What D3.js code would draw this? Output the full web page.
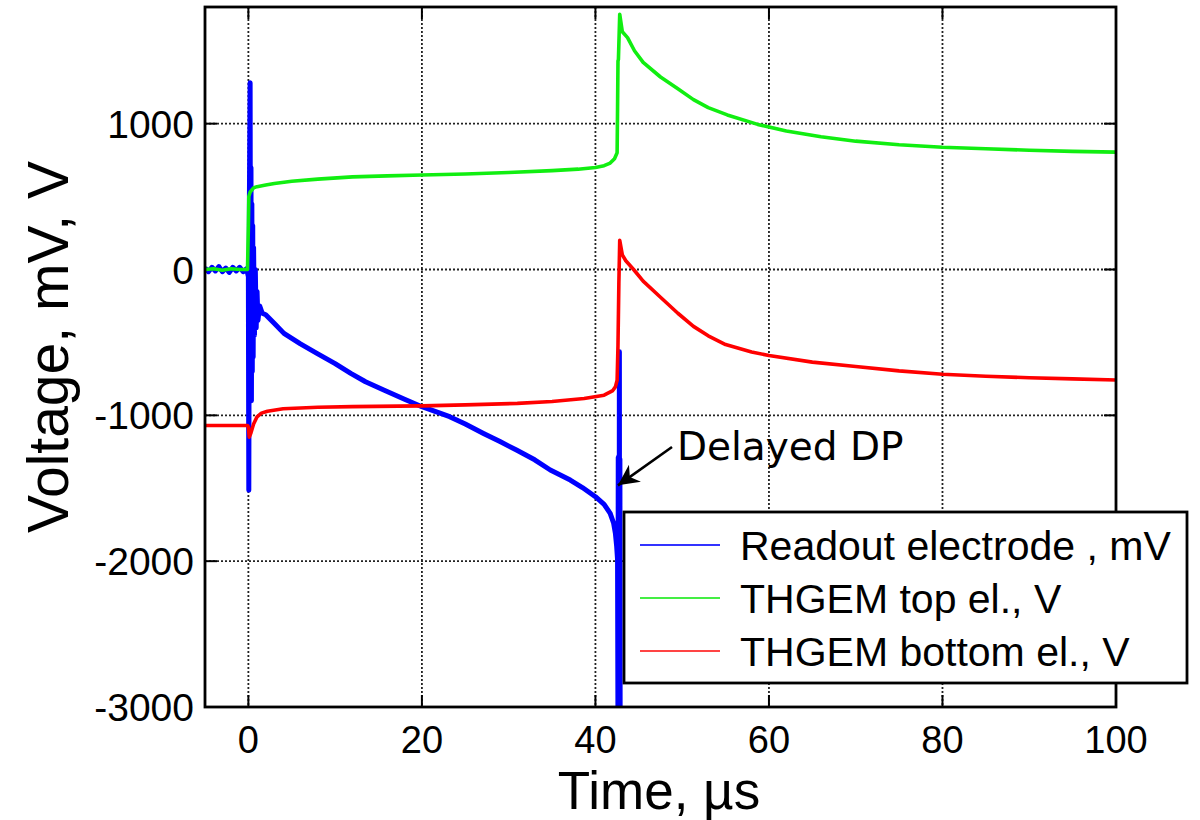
<!DOCTYPE html>
<html>
<head>
<meta charset="utf-8">
<script src="https://cdn.jsdelivr.net/npm/d3@7"></script>
<style>
  html, body { margin: 0; padding: 0; background: #fff; }
  svg { display: block; }
  text { font-family: "Liberation Sans", Arial, sans-serif; fill: #000; }
</style>
</head>
<body>
<svg id="chart" width="1200" height="820"></svg>
<script>
// ---------------- data ----------------
const xTicks = [0, 20, 40, 60, 80, 100];
const yTicks = [-3000, -2000, -1000, 0, 1000];
const xTickLabels = ["0", "20", "40", "60", "80", "100"];
const yTickLabels = ["-3000", "-2000", "-1000", "0", "1000"];

const seriesNames = ["Readout electrode , mV", "THGEM top el., V", "THGEM bottom el., V"];
const seriesColors = ["#0000ff", "#11ee11", "#ff0000"];
const legendColors = ["#3333ff", "#44ee44", "#ff4444"];

// Readout electrode (mV)
const readoutT = [-5, -4.6, -4.2, -3.8, -3.4, -3.0, -2.6, -2.2, -1.8, -1.4, -1.0, -0.6, -0.2, 0,
  0.05, 0.12, 0.2, 0.25, 0.3, 0.35, 0.4, 0.45, 0.5, 0.55, 0.6, 0.7, 0.8, 0.9, 1.0, 1.1, 1.3, 1.6,
  2, 3, 4.1, 6, 7.9, 10, 11.8, 13.5, 15.6, 18, 20, 23.2, 25, 27.1, 29, 30.9, 33, 34.8, 37.1, 38.5,
  40, 41, 41.7, 42.1, 42.3, 42.45, 42.55, 42.6, 42.63, 42.66, 42.7, 42.73, 42.76, 42.79, 42.82, 42.85];
const readoutV = [10, -15, 15, -10, 20, -15, 10, -20, 15, -10, 15, -15, 5, -50,
  -1513, 500, 1280, -700, 700, -900, 450, -700, 300, -600, 150, -450, 0, -400, -150, -350, -250, -300,
  -310, -370, -438, -510, -575, -645, -712, -770, -826, -890, -941, -1009, -1060, -1124, -1180, -1238, -1305, -1375, -1444, -1495,
  -1558, -1610, -1672, -1740, -1809, -1900, -1990, -3200, -1290, -3200, -1280, -3200, -564, -3200, -1300, -3200];

// THGEM top electrode (V)
const topT = [-5, -4, -3, -2, -1, -0.1, 0, 0.05, 0.2, 0.6, 1, 2, 3, 5, 8, 12, 16, 20, 25, 30, 35, 38, 40, 41,
  41.7, 42.2, 42.5, 42.55, 42.6, 42.65, 42.8, 43.1, 43.7, 44.5, 45.5, 47.5, 49.5, 51.3, 53, 55.2, 58.7,
  62, 66, 70, 75, 80, 85, 90, 95, 100];
const topV = [0, 5, -5, 5, 0, 0, 300, 500, 530, 560, 568, 580, 590, 605, 620, 635, 642, 648, 655, 665, 678, 688, 700, 712,
  730, 760, 800, 1100, 1430, 1440, 1750, 1630, 1590, 1500, 1420, 1320, 1240, 1165, 1110, 1060, 995,
  950, 910, 880, 855, 838, 828, 818, 810, 805];

// THGEM bottom electrode (V)
const bottomT = [-5, -0.1, 0, 0.1, 0.3, 0.6, 1, 1.5, 2.2, 4, 8, 12, 20, 25, 31, 35, 38.7, 41, 42, 42.3, 42.5,
  42.6, 42.7, 42.8, 43.1, 43.5, 44.4, 45.5, 47.5, 49.5, 51.3, 53, 55, 58, 60, 65, 70, 75, 80, 85, 90, 95, 100];
const bottomV = [-1070, -1070, -1080, -1150, -1120, -1060, -1010, -985, -972, -955, -945, -940, -935, -928, -918, -905, -885, -862, -830, -805, -760,
  -520, -100, 200, 100, 60, 0, -80, -190, -300, -390, -455, -515, -565, -590, -635, -665, -695, -718, -732, -742, -750, -758];

const annotationText = "Delayed DP";
const annotationPoint = [42.6, -1480];

// ---------------- drawing ----------------
const svg = d3.select("#chart");
const L = 205, R = 1116, T = 7, B = 707;
const x = d3.scaleLinear().domain([-5, 100]).range([L, R]);
const y = d3.scaleLinear().domain([-3000, 1800]).range([B, T]);

svg.append("defs").append("clipPath").attr("id", "clip")
  .append("rect").attr("x", L).attr("y", T).attr("width", R - L).attr("height", B - T);

// grid
const grid = svg.append("g");
grid.selectAll(".gx").data(xTicks.filter(d => d > -5 && d < 100)).join("line")
  .attr("x1", d => x(d)).attr("x2", d => x(d)).attr("y1", T).attr("y2", B)
  .attr("stroke", "#222").attr("stroke-width", 1.8).attr("stroke-dasharray", "2,2");
grid.selectAll(".gy").data(yTicks.filter(d => d > -3000 && d < 1800)).join("line")
  .attr("x1", L).attr("x2", R).attr("y1", d => y(d)).attr("y2", d => y(d))
  .attr("stroke", "#222").attr("stroke-width", 1.8).attr("stroke-dasharray", "2,2");

// inward ticks
const tl = 12;
const tk = svg.append("g").attr("stroke", "#000").attr("stroke-width", 2);
xTicks.forEach(d => {
  tk.append("line").attr("x1", x(d)).attr("x2", x(d)).attr("y1", B).attr("y2", B - tl);
  tk.append("line").attr("x1", x(d)).attr("x2", x(d)).attr("y1", T).attr("y2", T + tl);
});
yTicks.forEach(d => {
  tk.append("line").attr("x1", L).attr("x2", L + tl).attr("y1", y(d)).attr("y2", y(d));
  tk.append("line").attr("x1", R).attr("x2", R - tl).attr("y1", y(d)).attr("y2", y(d));
});

// series
const line = d3.line().x(d => x(d[0])).y(d => y(d[1]));
const plot = svg.append("g").attr("clip-path", "url(#clip)");
const series = [
  { t: readoutT, v: readoutV, c: seriesColors[0], w: 5 },
  { t: topT, v: topV, c: seriesColors[1], w: 3.6 },
  { t: bottomT, v: bottomV, c: seriesColors[2], w: 3.6 }
];
series.forEach(s => {
  plot.append("path").datum(s.t.map((t, i) => [t, s.v[i]]))
    .attr("d", line).attr("fill", "none").attr("stroke", s.c)
    .attr("stroke-width", s.w).attr("stroke-linejoin", "round");
});

// frame
svg.append("rect").attr("x", L).attr("y", T).attr("width", R - L).attr("height", B - T)
  .attr("fill", "none").attr("stroke", "#000").attr("stroke-width", 2.8);

// tick labels
svg.append("g").selectAll("text").data(xTicks).join("text")
  .attr("x", d => x(d)).attr("y", 753).attr("text-anchor", "middle")
  .style("font-size", "38px").text((d, i) => xTickLabels[i]);
svg.append("g").selectAll("text").data(yTicks).join("text")
  .attr("x", 194).attr("y", d => y(d) + 14).attr("text-anchor", "end")
  .style("font-size", "39px").text((d, i) => yTickLabels[i]);

// axis titles
svg.append("text").attr("x", 659).attr("y", 809).attr("text-anchor", "middle")
  .style("font-size", "53px").text("Time, \u00b5s");
svg.append("text").attr("transform", "translate(68,347) rotate(-90)").attr("text-anchor", "middle")
  .style("font-size", "57px").text("Voltage, mV, V");

// annotation
svg.append("defs").append("marker").attr("id", "arrow").attr("viewBox", "0 0 10 10")
  .attr("refX", 10).attr("refY", 5).attr("markerWidth", 8).attr("markerHeight", 8)
  .attr("markerUnits", "strokeWidth").attr("orient", "auto")
  .append("path").attr("d", "M0,0 L10,5 L0,10 L3,5 Z").attr("fill", "#000");
const ax = x(annotationPoint[0]), ay = y(annotationPoint[1]);
svg.append("line").attr("x1", 672).attr("y1", 447).attr("x2", ax).attr("y2", ay)
  .attr("stroke", "#000").attr("stroke-width", 2.6).attr("marker-end", "url(#arrow)");
svg.append("text").attr("x", 677).attr("y", 460)
  .style("font-family", "'DejaVu Sans', sans-serif").style("font-size", "39px").text(annotationText);

// legend
const lg = svg.append("g");
lg.append("rect").attr("x", 624).attr("y", 512).attr("width", 563).attr("height", 171)
  .attr("fill", "#fff").attr("stroke", "#000").attr("stroke-width", 2.8);
seriesNames.forEach((n, i) => {
  const yy = 545 + i * 53;
  lg.append("line").attr("x1", 640).attr("x2", 720).attr("y1", yy).attr("y2", yy)
    .attr("stroke", legendColors[i]).attr("stroke-width", 2);
  lg.append("text").attr("x", 740).attr("y", yy + 15).style("font-size", "41px").text(n);
});
</script>
</body>
</html>
